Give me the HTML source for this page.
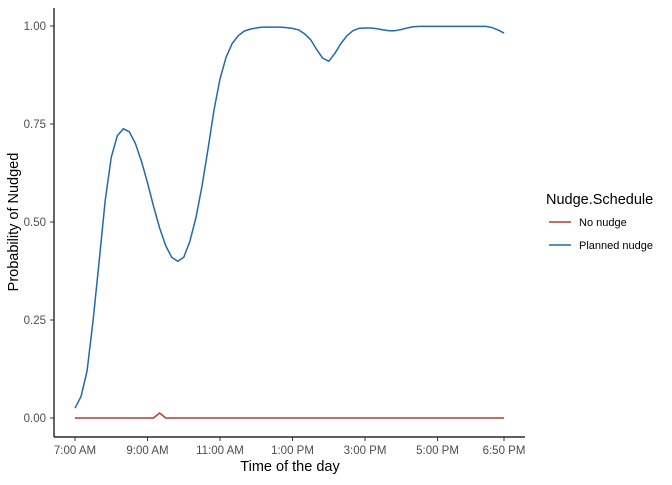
<!DOCTYPE html>
<html><head><meta charset="utf-8"><style>
body{margin:0;background:#fff;font-family:"Liberation Sans",sans-serif}
</style></head><body>
<svg id="chart" width="672" height="480" xmlns="http://www.w3.org/2000/svg" font-family="Liberation Sans, sans-serif">
<g id="grid"></g>
<g id="series"></g>
<g id="axes"></g>
<text x="290" y="471" text-anchor="middle" font-size="14.5" fill="#000">Time of the day</text>
<text transform="translate(18,222) rotate(-90)" text-anchor="middle" font-size="14.5" fill="#000">Probability of Nudged</text>
<g>
<text x="546" y="204" font-size="14.5" fill="#000">Nudge.Schedule</text>
<line x1="549" x2="571" y1="222" y2="222" stroke="#c0392b" stroke-width="1.5"/>
<text x="579" y="226" font-size="11" fill="#000">No nudge</text>
<line x1="549" x2="571" y1="245" y2="245" stroke="#1f68b4" stroke-width="1.5"/>
<text x="579" y="249" font-size="11" fill="#000">Planned nudge</text>
</g>
</svg>
<script>
const xTickMinutes=[0,120,240,360,480,600,710];
const xTickLabels=["7:00 AM","9:00 AM","11:00 AM","1:00 PM","3:00 PM","5:00 PM","6:50 PM"];
const yTicks=[0,0.25,0.5,0.75,1];
const yTickLabels=["0.00","0.25","0.50","0.75","1.00"];
const plannedNudge=[0.025,0.055,0.12,0.25,0.4,0.555,0.665,0.72,0.738,0.73,0.70,0.655,0.6,0.54,0.485,0.44,0.41,0.40,0.41,0.45,0.51,0.59,0.685,0.785,0.865,0.92,0.955,0.975,0.987,0.992,0.995,0.997,0.997,0.997,0.997,0.996,0.994,0.99,0.98,0.965,0.94,0.918,0.91,0.93,0.955,0.975,0.988,0.994,0.995,0.995,0.993,0.99,0.988,0.988,0.991,0.995,0.998,0.999,0.999,0.999,0.999,0.999,0.999,0.999,0.999,0.999,0.999,0.999,0.999,0.996,0.99,0.982];
const noNudge=[0,0,0,0,0,0,0,0,0,0,0,0,0,0,0.013,0,0,0,0,0,0,0,0,0,0,0,0,0,0,0,0,0,0,0,0,0,0,0,0,0,0,0,0,0,0,0,0,0,0,0,0,0,0,0,0,0,0,0,0,0,0,0,0,0,0,0,0,0,0,0,0,0];
const NS="http://www.w3.org/2000/svg";
const x=m=>75+m*(429/710);
const y=v=>418-v*392;
const axes=document.getElementById('axes');
function mk(tag,attrs,parent){const e=document.createElementNS(NS,tag);for(const k in attrs)e.setAttribute(k,attrs[k]);parent.appendChild(e);return e;}
let e=mk('line',{x1:54,x2:525,y1:437,y2:437,stroke:'#000','stroke-width':1.2},axes);


e=mk('line',{x1:54,x2:54,y1:8,y2:437,stroke:'#000','stroke-width':1.2},axes);


xTickMinutes.forEach((m,i)=>{
 let t=mk('line',{x1:x(m),x2:x(m),y1:437,y2:441,stroke:'#333'},axes);
 
 
 let l=mk('text',{x:x(m),y:454,'text-anchor':'middle','font-size':'11.5',fill:'#4d4d4d'},axes);
 l.textContent=xTickLabels[i];
 
 
});
yTicks.forEach((v,i)=>{
 let t=mk('line',{x1:50,x2:54,y1:y(v),y2:y(v),stroke:'#333'},axes);
 
 
 let l=mk('text',{x:46,y:y(v)+4,'text-anchor':'end','font-size':'11.5',fill:'#4d4d4d'},axes);
 l.textContent=yTickLabels[i];
 
 
});
const series=document.getElementById('series');
function line(vals,color,name){
 const d=vals.map((v,i)=>(i?'L':'M')+x(i*10).toFixed(2)+','+y(v).toFixed(2)).join('');
 const p=mk('path',{d:d,fill:'none',stroke:color,'stroke-width':1.5,'stroke-linejoin':'round'},series);
 
 
}
line(noNudge,'#c0392b','no-nudge-line');
line(plannedNudge,'#1f68b4','planned-nudge-line');
</script>
</body></html>
